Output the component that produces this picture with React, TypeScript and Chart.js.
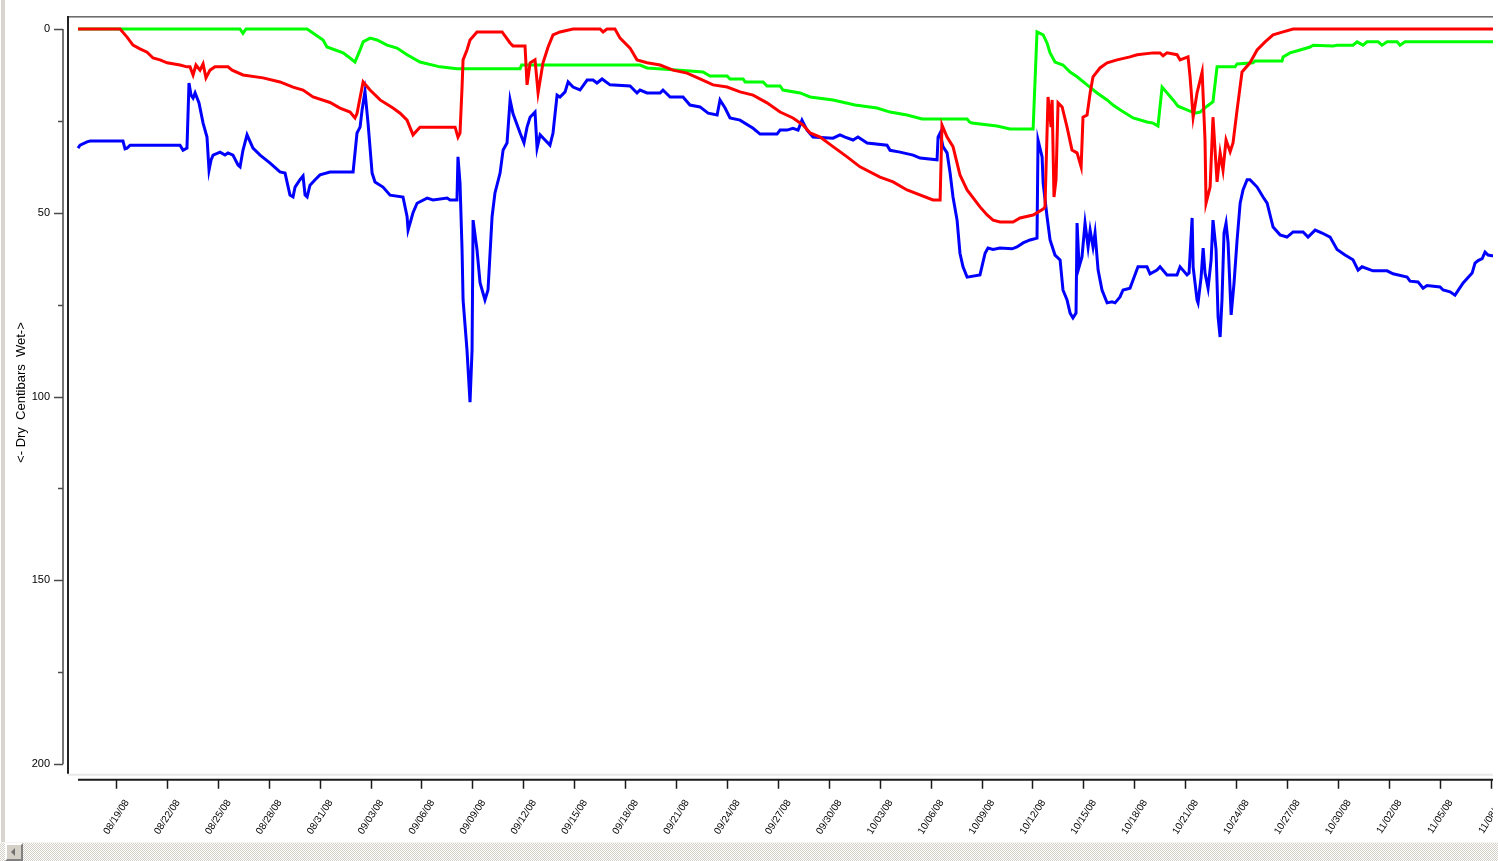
import React, { useEffect, useRef } from "react";
import { Chart, registerables } from "chart.js";

Chart.register(...registerables);

// Readings: [days since 08/19/08, soil tension in centibars]
const blueReadings: [number, number][] = [
  [-2.24, 32.4], [-2.12, 31.6], [-1.71, 30.7], [-1.53, 30.5], [0.41, 30.5], [0.53, 32.6], [0.65, 32.4],
  [0.83, 31.6], [3.77, 31.6], [3.95, 33.0], [4.18, 32.4], [4.3, 14.7], [4.42, 18.0], [4.54, 18.8],
  [4.66, 17.4], [4.89, 20.1], [5.13, 25.6], [5.36, 29.4], [5.48, 38.4], [5.6, 35.6], [5.72, 34.3],
  [6.13, 33.5], [6.42, 34.3], [6.6, 33.7], [6.89, 34.3], [7.19, 37.0], [7.31, 37.5], [7.48, 33.0],
  [7.72, 28.8], [8.07, 32.4], [8.49, 34.3], [9.08, 36.5], [9.66, 38.9], [9.96, 39.2], [10.25, 45.2],
  [10.43, 45.7], [10.55, 43.0], [10.84, 41.0], [11.02, 40.0], [11.14, 45.2], [11.26, 45.7], [11.43, 42.5],
  [11.73, 41.0], [12.02, 39.7], [12.61, 38.9], [13.97, 38.9], [14.2, 28.3], [14.38, 26.7], [14.5, 22.0],
  [14.67, 17.0], [14.85, 25.6], [15.09, 39.2], [15.26, 41.6], [15.73, 43.0], [16.15, 45.2], [16.91, 45.7],
  [17.15, 51.0], [17.21, 54.7], [17.5, 50.0], [17.74, 47.4], [18.33, 46.0], [18.68, 46.5], [19.51, 46.0],
  [19.68, 46.5], [20.09, 46.5], [20.15, 34.8], [20.27, 41.9], [20.39, 60.0], [20.45, 73.7], [20.68, 87.3],
  [20.86, 101.5], [20.98, 87.3], [21.04, 52.0], [21.27, 60.0], [21.45, 69.0], [21.74, 73.7], [21.92, 71.0],
  [22.16, 51.0], [22.33, 44.6], [22.63, 39.2], [22.81, 32.9], [23.04, 31.0], [23.22, 19.3], [23.39, 23.0],
  [23.81, 28.3], [24.04, 31.0], [24.22, 26.7], [24.4, 24.0], [24.69, 22.6], [24.81, 32.4], [24.99, 28.8],
  [25.28, 30.2], [25.57, 31.6], [25.75, 28.3], [25.99, 18.0], [26.16, 18.5], [26.46, 17.1], [26.64, 14.4],
  [26.93, 15.8], [27.34, 16.6], [27.76, 13.9], [28.11, 13.9], [28.34, 14.7], [28.64, 13.6], [29.11, 15.2],
  [30.29, 15.5], [30.7, 17.4], [30.88, 16.6], [31.29, 17.4], [32.06, 17.4], [32.23, 16.6], [32.65, 18.5],
  [33.41, 18.5], [33.82, 20.7], [34.41, 21.2], [34.89, 22.9], [35.42, 23.4], [35.59, 19.3], [35.89, 21.5],
  [36.18, 24.2], [36.77, 24.8], [37.54, 27.0], [37.95, 28.6], [38.95, 28.6], [39.13, 27.5], [39.54, 27.5],
  [39.89, 27.0], [40.19, 27.5], [40.42, 24.8], [40.72, 27.5], [41.07, 29.4], [42.25, 29.7], [42.66, 28.8],
  [42.96, 29.4], [43.43, 30.2], [43.72, 29.4], [44.26, 31.0], [45.43, 31.6], [45.61, 33.0], [46.2, 33.5],
  [46.97, 34.3], [47.38, 35.1], [48.38, 35.6], [48.44, 29.4], [48.56, 28.3], [48.73, 32.0], [48.97, 33.7],
  [49.15, 39.2], [49.32, 45.7], [49.56, 52.0], [49.73, 61.0], [49.91, 64.7], [50.15, 67.5], [50.91, 66.9],
  [51.21, 61.0], [51.38, 59.6], [51.68, 60.0], [52.09, 59.6], [52.8, 59.8], [53.09, 59.3], [53.45, 58.2],
  [53.86, 57.4], [54.27, 56.9], [54.33, 30.2], [54.57, 34.8], [54.63, 41.9], [54.86, 51.0], [55.04, 57.4],
  [55.33, 61.5], [55.63, 62.8], [55.8, 71.0], [56.04, 73.7], [56.22, 77.3], [56.39, 78.6], [56.57, 77.3],
  [56.63, 52.8], [56.75, 64.7], [56.92, 62.0], [57.1, 52.8], [57.28, 59.3], [57.4, 54.7], [57.57, 59.3],
  [57.69, 55.5], [57.87, 65.6], [58.1, 71.0], [58.4, 74.5], [58.69, 74.2], [58.87, 74.5], [59.16, 72.9],
  [59.34, 71.0], [59.75, 70.5], [59.93, 68.3], [60.22, 64.7], [60.75, 64.7], [60.93, 66.6], [61.34, 65.6],
  [61.52, 64.7], [61.93, 66.9], [62.52, 66.9], [62.7, 64.7], [63.11, 66.9], [63.23, 66.4], [63.41, 51.4],
  [63.47, 64.7], [63.7, 73.7], [63.76, 74.5], [63.94, 67.5], [64.06, 59.6], [64.17, 66.4], [64.35, 70.5],
  [64.53, 62.8], [64.64, 52.0], [64.82, 60.0], [64.94, 78.3], [65.06, 83.8], [65.17, 73.7], [65.29, 55.5],
  [65.41, 52.8], [65.53, 58.2], [65.71, 77.8], [65.88, 69.1], [66.06, 57.4], [66.24, 47.4], [66.41, 43.8],
  [66.65, 41.0], [66.82, 41.0], [67.24, 43.0], [67.59, 45.7], [67.83, 47.4], [68.18, 53.9], [68.59, 56.0],
  [69.0, 56.6], [69.36, 55.2], [69.95, 55.2], [70.24, 56.6], [70.66, 54.7], [71.07, 55.5], [71.54, 56.6],
  [71.95, 60.0], [72.42, 61.5], [72.89, 62.8], [73.19, 65.6], [73.42, 64.7], [74.07, 65.8], [74.9, 65.8],
  [75.25, 66.6], [76.08, 67.5], [76.25, 68.6], [76.72, 68.8], [77.02, 70.5], [77.25, 69.8], [78.02, 70.2],
  [78.2, 71.0], [78.61, 71.5], [78.9, 72.4], [79.38, 69.1], [79.91, 66.4], [80.08, 63.7], [80.26, 63.0],
  [80.5, 62.5], [80.67, 60.7], [80.85, 61.5], [81.08, 61.7], [81.4, 61.7],
];

const redReadings: [number, number][] = [
  [-2.24, 0], [0.24, 0], [0.65, 2.2], [1.0, 4.4], [1.41, 5.4], [1.83, 6.3], [2.18, 7.9], [2.59, 8.4],
  [3.01, 9.2], [3.77, 9.8], [4.18, 10.3], [4.36, 10.3], [4.54, 12.5], [4.71, 9.8], [4.95, 11.2], [5.13, 9.5],
  [5.3, 13.3], [5.54, 11.2], [5.83, 10.3], [6.6, 10.3], [6.84, 11.2], [7.48, 12.5], [8.66, 13.3], [9.66, 14.4],
  [10.43, 15.8], [11.02, 16.6], [11.61, 18.5], [12.61, 20.0], [13.2, 21.5], [13.79, 22.6], [14.08, 24.2],
  [14.2, 23.0], [14.56, 14.4], [14.97, 16.6], [15.56, 19.3], [16.32, 21.5], [16.74, 22.9], [17.15, 24.8],
  [17.5, 28.8], [17.91, 26.7], [19.98, 26.7], [20.15, 29.4], [20.27, 28.3], [20.39, 15.8], [20.45, 8.4],
  [20.68, 5.7], [20.86, 3.0], [21.27, 0.8], [22.75, 0.8], [23.22, 3.8], [23.39, 4.6], [24.1, 4.6],
  [24.22, 15.2], [24.4, 9.2], [24.69, 8.4], [24.87, 17.4], [25.16, 9.2], [25.46, 4.9], [25.75, 1.6],
  [26.16, 0.8], [26.93, 0], [28.52, 0], [28.7, 0.8], [28.93, 0], [29.4, 0], [29.7, 2.5], [30.29, 5.2],
  [30.7, 8.4], [31.29, 9.2], [32.06, 9.8], [32.82, 11.2], [33.65, 12.0], [34.41, 13.6], [35.18, 15.2],
  [36.01, 15.8], [36.77, 17.1], [37.54, 18.0], [38.36, 20.1], [39.13, 22.6], [39.89, 24.2], [40.48, 26.1],
  [40.9, 28.3], [41.49, 29.4], [42.25, 32.0], [43.08, 34.8], [43.84, 37.5], [45.02, 40.3], [45.79, 41.6],
  [46.61, 43.8], [48.14, 46.5], [48.56, 46.5], [48.67, 26.1], [48.97, 29.4], [49.32, 32.0], [49.73, 39.7],
  [50.15, 43.8], [50.91, 48.4], [51.33, 50.6], [51.68, 52.0], [52.09, 52.5], [52.86, 52.5], [53.27, 51.4],
  [54.04, 50.6], [54.63, 49.0], [54.74, 48.4], [54.92, 18.5], [55.1, 26.7], [55.16, 19.3], [55.27, 45.7],
  [55.39, 41.0], [55.51, 20.1], [55.75, 21.2], [56.04, 26.7], [56.33, 32.9], [56.63, 33.7], [56.87, 37.5],
  [56.98, 24.0], [57.22, 23.4], [57.4, 17.4], [57.57, 13.0], [57.98, 10.6], [58.4, 9.2], [58.99, 8.4],
  [59.75, 7.6], [60.17, 7.0], [61.11, 6.5], [61.52, 6.5], [61.7, 7.3], [61.93, 6.5], [62.52, 7.0],
  [62.7, 8.4], [63.17, 7.6], [63.29, 13.0], [63.47, 24.0], [63.7, 17.4], [64.0, 11.7], [64.17, 30.2],
  [64.23, 47.4], [64.47, 43.0], [64.64, 24.0], [64.76, 32.9], [64.88, 41.6], [65.06, 33.7], [65.23, 38.4],
  [65.41, 30.2], [65.65, 33.4], [65.82, 31.0], [66.06, 22.0], [66.35, 11.7], [66.82, 9.2], [67.24, 5.7],
  [67.71, 3.5], [68.18, 1.6], [68.77, 0.8], [69.36, 0], [83.3, 0],
];

const greenReadings: [number, number][] = [
  [-2.24, 0], [7.3, 0], [7.48, 1.2], [7.66, 0], [11.26, 0], [12.2, 3.0], [12.43, 4.9], [13.38, 6.5],
  [13.79, 7.9], [14.08, 9.0], [14.38, 5.7], [14.56, 3.5], [14.97, 2.5], [15.38, 3.0], [15.97, 4.4],
  [16.56, 5.2], [17.15, 7.0], [17.91, 9.0], [19.09, 10.3], [20.09, 10.8], [23.81, 10.8], [23.9, 9.8],
  [30.88, 9.8], [31.29, 10.6], [33.24, 11.2], [34.59, 11.7], [35.0, 12.8], [36.01, 12.8], [36.18, 13.6],
  [36.95, 13.6], [37.07, 14.4], [38.13, 14.4], [38.36, 15.5], [39.13, 15.5], [39.3, 16.6], [40.31, 17.4],
  [40.9, 18.5], [42.25, 19.3], [43.55, 20.7], [44.84, 21.5], [45.61, 22.6], [46.61, 23.4], [47.5, 24.5],
  [50.15, 24.5], [50.3, 25.3], [50.44, 25.6], [51.91, 26.4], [52.68, 27.2], [54.04, 27.2], [54.27, 0.8],
  [54.63, 1.6], [54.86, 3.8], [55.04, 6.5], [55.33, 9.0], [55.8, 9.8], [56.22, 11.7], [56.63, 13.0],
  [57.22, 15.2], [57.81, 17.4], [58.4, 19.3], [58.75, 20.7], [59.16, 22.0], [59.93, 24.2], [60.75, 25.3],
  [61.11, 25.6], [61.4, 26.4], [61.64, 15.8], [62.29, 19.3], [62.58, 21.0], [63.11, 22.0], [63.58, 22.9],
  [63.88, 22.6], [64.29, 21.0], [64.64, 19.8], [64.88, 10.3], [65.94, 10.3], [66.06, 9.5], [67.0, 9.2],
  [67.12, 8.7], [68.71, 8.7], [68.77, 7.6], [69.18, 6.5], [69.77, 5.7], [70.36, 4.9], [70.54, 4.4],
  [71.72, 4.6], [71.95, 4.4], [72.89, 4.4], [73.13, 3.5], [73.48, 4.4], [73.72, 3.5], [74.37, 3.5],
  [74.6, 4.4], [74.9, 3.5], [75.49, 3.5], [75.66, 4.4], [75.96, 3.5], [83.3, 3.5],
];

// One label every three days, starting at 08/19/08 (day 0)
const dateLabels = [
  "08/19/08", "08/22/08", "08/25/08", "08/28/08", "08/31/08", "09/03/08", "09/06/08", "09/09/08",
  "09/12/08", "09/15/08", "09/18/08", "09/21/08", "09/24/08", "09/27/08", "09/30/08", "10/03/08",
  "10/06/08", "10/09/08", "10/12/08", "10/15/08", "10/18/08", "10/21/08", "10/24/08", "10/27/08",
  "10/30/08", "11/02/08", "11/05/08", "11/08/08",
];
const labelStepDays = 3;
const yMajorTicks = [0, 50, 100, 150, 200];
const yMinorTicks = [25, 75, 125, 175];
const yTitle = "<- Dry  Centibars  Wet->";

const FONT = "'Liberation Sans', Arial, sans-serif";

const toPoints = (rows: [number, number][]) => rows.map(([x, y]) => ({ x, y }));

// Draws the plot frame plus detached value/date axes in the classic logger style
const loggerAxes = {
  id: "loggerAxes",
  beforeDatasetsDraw(chart: any) {
    const { ctx, chartArea } = chart;
    const yBottom = chart.scales.y.getPixelForValue(202.6);
    ctx.save();
    ctx.fillStyle = "#e9e9e9";
    ctx.fillRect(chartArea.left, yBottom, chartArea.right - chartArea.left, 2);
    ctx.fillStyle = "#6e6e6e";
    ctx.fillRect(chartArea.left, chartArea.top - 1, chartArea.right - chartArea.left, 1);
    ctx.fillStyle = "#a8a8a8";
    ctx.fillRect(chartArea.left, chartArea.top, chartArea.right - chartArea.left, 1);
    ctx.fillStyle = "#222";
    ctx.fillRect(chartArea.left - 1, chartArea.top - 1, 2, yBottom - chartArea.top + 1);
    ctx.restore();
  },
  afterDraw(chart: any) {
    const { ctx, chartArea } = chart;
    const xs = chart.scales.x;
    const ys = chart.scales.y;
    ctx.save();

    // value axis
    const ax = chartArea.left - 5;
    const y0 = ys.getPixelForValue(yMajorTicks[0]);
    const y1 = ys.getPixelForValue(yMajorTicks[yMajorTicks.length - 1]);
    ctx.strokeStyle = "#4a4a4a";
    ctx.lineWidth = 1.5;
    ctx.beginPath();
    ctx.moveTo(ax, y0);
    ctx.lineTo(ax, y1);
    yMajorTicks.forEach((v) => {
      const p = Math.round(ys.getPixelForValue(v)) + 0.5;
      ctx.moveTo(ax, p);
      ctx.lineTo(ax - 9, p);
    });
    yMinorTicks.forEach((v) => {
      const p = Math.round(ys.getPixelForValue(v)) + 0.5;
      ctx.moveTo(ax, p);
      ctx.lineTo(ax - 5, p);
    });
    ctx.stroke();
    ctx.fillStyle = "#000";
    ctx.font = `11px ${FONT}`;
    ctx.textAlign = "right";
    ctx.textBaseline = "middle";
    yMajorTicks.forEach((v) => {
      ctx.fillText(String(v), ax - 13, ys.getPixelForValue(v));
    });

    // axis title
    ctx.save();
    ctx.translate(21, (y0 + y1) / 2 - 4);
    ctx.rotate(-Math.PI / 2);
    ctx.textAlign = "center";
    ctx.font = `13px ${FONT}`;
    ctx.fillText(yTitle, 0, 0);
    ctx.restore();

    // date axis
    const lineY = ys.getPixelForValue(202.6) + 6;
    const startX = xs.getPixelForValue(blueReadings[0][0]);
    ctx.strokeStyle = "#1a1a1a";
    ctx.lineWidth = 2;
    ctx.beginPath();
    ctx.moveTo(startX, lineY);
    ctx.lineTo(chartArea.right, lineY);
    ctx.stroke();
    ctx.lineWidth = 1.5;
    ctx.beginPath();
    dateLabels.forEach((_, i) => {
      const p = Math.round(xs.getPixelForValue(i * labelStepDays)) + 0.5;
      ctx.moveTo(p, lineY);
      ctx.lineTo(p, lineY + 9);
    });
    ctx.stroke();
    ctx.font = `10px ${FONT}`;
    ctx.textAlign = "right";
    ctx.textBaseline = "middle";
    dateLabels.forEach((label, i) => {
      const p = xs.getPixelForValue(i * labelStepDays);
      ctx.save();
      ctx.translate(p + 11, lineY + 21);
      ctx.rotate((-57 * Math.PI) / 180);
      ctx.fillText(label, 0, 0);
      ctx.restore();
    });
    ctx.restore();
  },
};

function SoilChart() {
  const canvasRef = useRef<HTMLCanvasElement | null>(null);

  useEffect(() => {
    if (!canvasRef.current) return;
    const line = (label: string, rows: [number, number][], color: string) => ({
      label,
      data: toPoints(rows),
      borderColor: color,
      backgroundColor: color,
      borderWidth: 3,
      pointRadius: 0,
      tension: 0,
      fill: false,
    });
    // The first dataset is painted last, so red sits on top, then blue, then green.
    const chart = new Chart(canvasRef.current, {
      type: "line",
      data: {
        datasets: [
          line("Sensor 2", redReadings, "#ff0000"),
          line("Sensor 3", blueReadings, "#0000ff"),
          line("Sensor 1", greenReadings, "#00ff00"),
        ],
      },
      options: {
        animation: false,
        responsive: false,
        devicePixelRatio: 1,
        layout: { padding: { left: 68, top: 17, right: 0, bottom: 69 } },
        plugins: { legend: { display: false }, tooltip: { enabled: false } },
        scales: {
          x: { type: "linear", min: -2.83, max: 83.32, display: false },
          y: { type: "linear", min: -3.26, max: 202.67, reverse: true, display: false },
        },
      },
      plugins: [loggerAxes],
    });
    return () => chart.destroy();
  }, []);

  return <canvas ref={canvasRef} width={1530} height={843} />;
}

export default function App() {
  return (
    <div style={{ position: "fixed", left: 0, top: 0, width: 1498, height: 861, background: "#fff", overflow: "hidden" }}>
      <div style={{ position: "absolute", left: 0, top: 0, width: 1493, height: 843, overflow: "hidden" }}>
        <SoilChart />
      </div>
      <div style={{ position: "absolute", left: 1, top: 0, width: 4, height: 861, background: "#d8d5ce" }} />
      <div
        style={{
          position: "absolute",
          left: 0,
          top: 842,
          width: 1498,
          height: 19,
          borderTop: "1px solid #f4f3f0",
          background: "repeating-conic-gradient(#d4d0c8 0 25%, #ffffff 0 50%) 0 0 / 2px 2px",
        }}
      />
      <div
        style={{
          position: "absolute",
          left: 5,
          top: 843,
          width: 14,
          height: 14,
          background: "#d4d0c8",
          borderTop: "2px solid #fff",
          borderLeft: "2px solid #fff",
          borderRight: "2px solid #808080",
          borderBottom: "2px solid #808080",
        }}
      >
        <div
          style={{
            position: "absolute",
            left: 4,
            top: 3,
            width: 0,
            height: 0,
            borderTop: "4px solid transparent",
            borderBottom: "4px solid transparent",
            borderRight: "4px solid #707070",
          }}
        />
      </div>
    </div>
  );
}
